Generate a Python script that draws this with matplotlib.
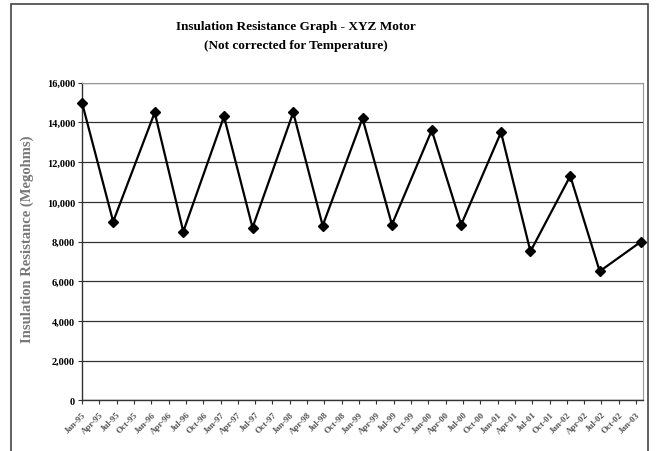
import matplotlib.pyplot as plt
from matplotlib.patches import Rectangle

# readings (megohms) and their positions on the time axis, in tick units
x_pos = [0.0, 1.8, 4.2, 5.85, 8.2, 9.85, 12.2, 13.9, 16.2, 17.9,
         20.2, 21.9, 24.2, 25.9, 28.2, 29.9, 32.3]
resistance = [15000, 9000, 14500, 8500, 14300, 8700, 14500, 8800, 14200, 8850,
              13600, 8850, 13500, 7500, 11300, 6500, 8000]

# tick labels are illegible in the reference; quarterly dates used
tick_labels = ['Jan-95', 'Apr-95', 'Jul-95', 'Oct-95', 'Jan-96', 'Apr-96', 'Jul-96', 'Oct-96',
               'Jan-97', 'Apr-97', 'Jul-97', 'Oct-97', 'Jan-98', 'Apr-98', 'Jul-98', 'Oct-98',
               'Jan-99', 'Apr-99', 'Jul-99', 'Oct-99', 'Jan-00', 'Apr-00', 'Jul-00', 'Oct-00',
               'Jan-01', 'Apr-01', 'Jul-01', 'Oct-01', 'Jan-02', 'Apr-02', 'Jul-02', 'Oct-02',
               'Jan-03']
y_ticks = [0, 2000, 4000, 6000, 8000, 10000, 12000, 14000, 16000]

plt.rcParams['font.family'] = ['Liberation Serif', 'DejaVu Serif']

W, H = 656, 452
fig = plt.figure(figsize=(W / 100, H / 100), dpi=100)

# outer chart border
fig.patches.append(Rectangle((11 / W, -0.05), 637 / W, 1.05 - 5 / H, transform=fig.transFigure,
                             fill=False, edgecolor='#444444', linewidth=1.2))

ax = fig.add_axes([82 / W, 1 - 401.3 / H, (643 - 82) / W, (401.3 - 83.7) / H])
ax.plot(x_pos, resistance, color='black', linewidth=1.6, marker='D', markersize=5,
        markerfacecolor='black', markeredgecolor='black', clip_on=False, zorder=3)

ax.set_xlim(0, 32.4)
ax.set_ylim(0, 16000)
ax.set_yticks(y_ticks)
ax.set_yticklabels([f'{v:,}' for v in y_ticks], fontsize=7.5, fontweight='bold')
ax.set_xticks(range(len(tick_labels)))
ax.set_xticklabels(tick_labels, rotation=45, ha='right', rotation_mode='anchor',
                   fontsize=6.5, fontweight='bold', color='#555555')
ax.tick_params(axis='both', direction='out', length=3, width=0.8, color='#333333', pad=2)
ax.tick_params(axis='x', pad=4)
ax.grid(axis='y', color='#333333', linewidth=0.9)
ax.set_axisbelow(True)
for side in ['top', 'right']:
    ax.spines[side].set_color('#999999')
    ax.spines[side].set_linewidth(0.8)
for side in ['left', 'bottom']:
    ax.spines[side].set_color('#333333')
    ax.spines[side].set_linewidth(1.0)

ax.set_ylabel('Insulation Resistance (Megohms)', fontsize=10.5, fontweight='bold',
              color='#777777', labelpad=8)
ax.yaxis.set_label_coords(-0.085, 0.51)

fig.text(296 / W, 1 - 27 / H, 'Insulation Resistance Graph - XYZ Motor', ha='center', va='center',
         fontsize=9.5, fontweight='bold')
fig.text(296 / W, 1 - 46 / H, '(Not corrected for Temperature)', ha='center', va='center',
         fontsize=9.5, fontweight='bold')

fig.savefig('out.png', dpi=100)
